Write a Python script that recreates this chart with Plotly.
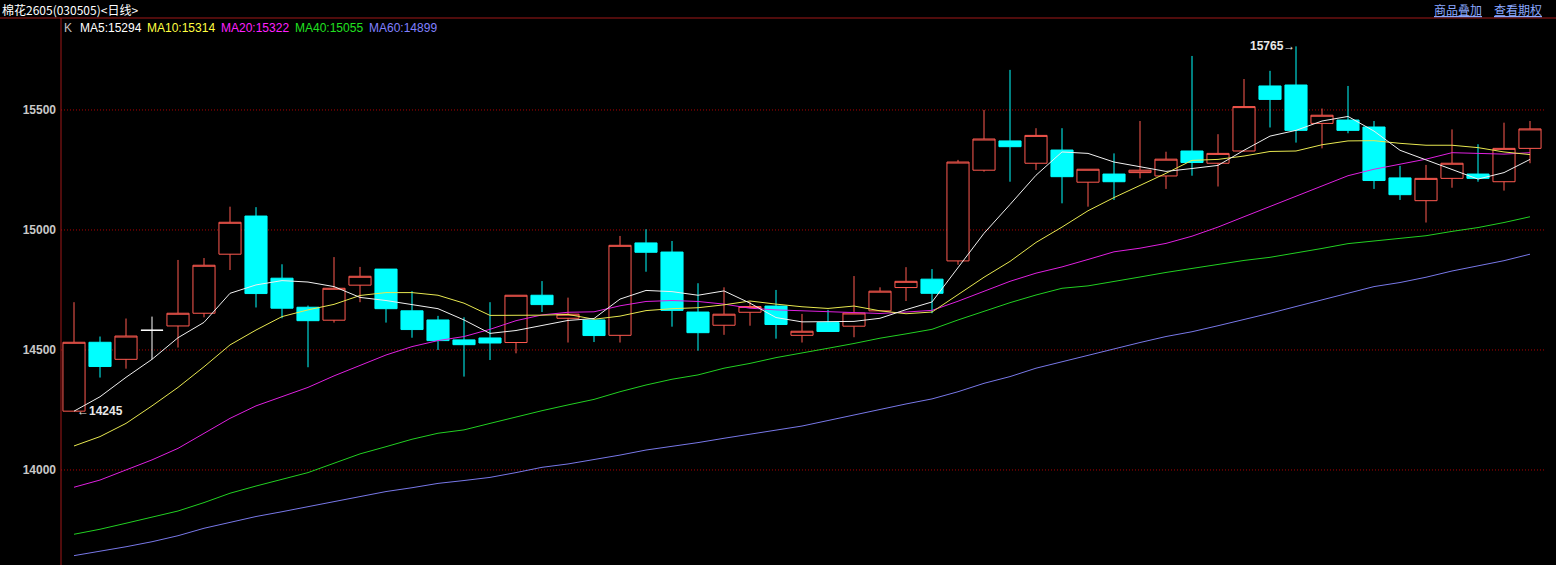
import plotly.graph_objects as go

# ---- data ----
opens = [14245, 14532, 14461, 14582, 14600, 14653, 14899, 15058, 14799, 14678,
         14624, 14770, 14837, 14663, 14625, 14542, 14550, 14531, 14728, 14632,
         14625, 14561, 14946, 14908, 14658, 14603, 14657, 14683, 14561, 14614,
         14599, 14663, 14760, 14795, 14871, 15249, 15371, 15278, 15333, 15199,
         15233, 15239, 15225, 15329, 15278, 15329, 15600, 15604, 15444, 15458,
         15429, 15217, 15122, 15215, 15233, 15201, 15340]
highs = [14699, 14556, 14631, 14639, 14875, 14883, 15097, 15095, 14857, 14685,
         14887, 14846, 14837, 14745, 14642, 14636, 14699, 14728, 14787, 14718,
         14625, 14975, 15003, 14954, 14778, 14761, 14701, 14750, 14650, 14667,
         14808, 14761, 14845, 14837, 15292, 15500, 15667, 15424, 15424, 15253,
         15319, 15454, 15326, 15725, 15399, 15629, 15663, 15765, 15506, 15600,
         15454, 15267, 15271, 15419, 15357, 15447, 15454]
lows = [14245, 14385, 14422, 14461, 14510, 14636, 14833, 14677, 14632, 14428,
        14614, 14699, 14614, 14551, 14500, 14389, 14458, 14486, 14658, 14531,
        14533, 14531, 14826, 14597, 14497, 14563, 14601, 14547, 14531, 14577,
        14553, 14663, 14704, 14653, 14855, 15243, 15201, 15250, 15111, 15097,
        15125, 15215, 15171, 15226, 15181, 15326, 15427, 15364, 15340, 15403,
        15171, 15125, 15031, 15176, 15201, 15164, 15278]
closes = [14532, 14431, 14558, 14582, 14653, 14853, 15032, 14735, 14674, 14622,
          14757, 14807, 14672, 14585, 14539, 14522, 14529, 14728, 14689, 14649,
          14560, 14936, 14907, 14665, 14572, 14649, 14681, 14606, 14578, 14577,
          14654, 14745, 14786, 14736, 15283, 15379, 15347, 15394, 15222, 15253,
          15201, 15249, 15295, 15281, 15319, 15514, 15544, 15415, 15478, 15415,
          15206, 15147, 15215, 15278, 15215, 15340, 15421]

ma5 = [14245, 14305, 14386, 14461, 14551, 14615, 14736, 14771, 14789, 14783,
       14764, 14719, 14706, 14689, 14672, 14625, 14569, 14581, 14601, 14623,
       14631, 14712, 14748, 14743, 14728, 14746, 14695, 14635, 14617, 14618,
       14619, 14632, 14668, 14700, 14841, 14986, 15106, 15228, 15325, 15319,
       15283, 15264, 15244, 15256, 15269, 15332, 15391, 15415, 15454, 15473,
       15412, 15332, 15292, 15252, 15212, 15239, 15294]
ma10 = [14100, 14139, 14194, 14267, 14344, 14430, 14521, 14583, 14639, 14667,
        14690, 14727, 14739, 14739, 14728, 14695, 14644, 14644, 14645, 14648,
        14628, 14641, 14664, 14672, 14676, 14688, 14704, 14691, 14680, 14673,
        14683, 14663, 14651, 14658, 14730, 14803, 14869, 14948, 15012, 15080,
        15135, 15185, 15236, 15290, 15294, 15308, 15327, 15329, 15355, 15371,
        15372, 15361, 15353, 15353, 15343, 15325, 15314]
ma20 = [13928, 13958, 14000, 14042, 14090, 14153, 14215, 14267, 14306, 14344,
        14392, 14437, 14479, 14514, 14539, 14556, 14586, 14622, 14646, 14657,
        14659, 14684, 14702, 14706, 14702, 14691, 14674, 14667, 14663, 14660,
        14655, 14652, 14658, 14665, 14703, 14745, 14786, 14820, 14846, 14877,
        14909, 14924, 14944, 14974, 15012, 15055, 15098, 15139, 15184, 15226,
        15253, 15273, 15295, 15322, 15318, 15316, 15322]
ma40 = [13732, 13753, 13778, 13803, 13829, 13864, 13903, 13933, 13961, 13989,
        14028, 14067, 14097, 14128, 14153, 14167, 14194, 14222, 14247, 14271,
        14294, 14326, 14354, 14378, 14396, 14424, 14444, 14468, 14486, 14507,
        14527, 14549, 14567, 14586, 14625, 14662, 14697, 14729, 14757, 14767,
        14784, 14804, 14823, 14840, 14857, 14873, 14886, 14903, 14923, 14943,
        14954, 14963, 14976, 14994, 15010, 15031, 15055]
ma60 = [13643, 13660, 13680, 13701, 13726, 13757, 13781, 13806, 13826, 13847,
        13871, 13889, 13910, 13926, 13944, 13956, 13969, 13989, 14011, 14025,
        14042, 14062, 14083, 14097, 14114, 14132, 14150, 14167, 14183, 14206,
        14230, 14253, 14275, 14296, 14326, 14361, 14389, 14424, 14451, 14479,
        14507, 14531, 14556, 14576, 14601, 14626, 14653, 14681, 14708, 14736,
        14764, 14781, 14803, 14829, 14850, 14872, 14899]

ytick_vals = [14000, 14500, 15000, 15500]
title_text = "棉花2605(030505)<日线>"
legend_items = [("K", "#c0c0c0"), ("MA5:15294", "#ffffff"), ("MA10:15314", "#ffff40"),
                ("MA20:15322", "#ff20ff"), ("MA40:15055", "#20e020"), ("MA60:14899", "#8080ff")]
links = ["商品叠加", "查看期权"]
low_mark = (0, 14245)
high_mark = (47, 15765)

# ---- styling ----
RED = "#ff5a50"
CYAN = "#00ffff"
AXIS_RED = "#a01818"
GRID_RED = "#b00000"
W, H = 1556, 565
ML, MT = 61, 19
PW, PH = W - ML, H - MT

n = len(closes)
idx = list(range(n))
main_i = [i for i in idx if opens[i] != closes[i]]
doji_i = [i for i in idx if opens[i] == closes[i]]

fig = go.Figure()
fig.add_trace(go.Candlestick(
    x=main_i,
    open=[opens[i] for i in main_i], high=[highs[i] for i in main_i],
    low=[lows[i] for i in main_i], close=[closes[i] for i in main_i],
    increasing=dict(line=dict(color=RED, width=1), fillcolor="#000000"),
    decreasing=dict(line=dict(color=CYAN, width=1), fillcolor=CYAN),
    whiskerwidth=0, hoverinfo="skip"))
fig.add_trace(go.Candlestick(
    x=doji_i,
    open=[opens[i] for i in doji_i], high=[highs[i] for i in doji_i],
    low=[lows[i] for i in doji_i], close=[closes[i] for i in doji_i],
    increasing=dict(line=dict(color="#ffffff", width=1), fillcolor="#ffffff"),
    decreasing=dict(line=dict(color="#ffffff", width=1), fillcolor="#ffffff"),
    whiskerwidth=0, hoverinfo="skip"))

ma_styles = [(ma60, "#7878e8"), (ma40, "#22d022"), (ma20, "#e020e0"),
             (ma10, "#e8e850"), (ma5, "#f0f0f0")]
for vals, col in ma_styles:
    fig.add_trace(go.Scatter(x=idx, y=vals, mode="lines",
                             line=dict(color=col, width=1), hoverinfo="skip"))

def py(Y):
    return (H - Y) / PH

def px(X):
    return (X - ML) / PW

annotations = []
annotations.append(dict(text=title_text, xref="paper", yref="paper", x=px(0), y=py(9),
                        xanchor="left", yanchor="middle", showarrow=False,
                        font=dict(family="Noto Sans CJK SC", size=12, color="#ffffff")))
link_x = [1432, 1492]
for t, lx in zip(links, link_x):
    annotations.append(dict(text="<u>" + t + "</u>", xref="paper", yref="paper", x=px(lx), y=py(9),
                            xanchor="left", yanchor="middle", showarrow=False,
                            font=dict(family="Noto Sans CJK SC", size=12, color="#8aa8ff")))
leg_x = [62, 78, 145, 219, 293, 367]
for (t, c), lx in zip(legend_items, leg_x):
    annotations.append(dict(text=t, xref="paper", yref="paper", x=px(lx), y=py(28),
                            xanchor="left", yanchor="middle", showarrow=False,
                            font=dict(family="Liberation Sans", size=12, color=c)))
annotations.append(dict(text="←" + str(low_mark[1]), x=low_mark[0], y=low_mark[1],
                        xref="x", yref="y", xanchor="left", yanchor="middle", xshift=1,
                        showarrow=False,
                        font=dict(family="Liberation Sans", size=12, color="#e8e8e8", weight="bold")))
annotations.append(dict(text=str(high_mark[1]) + "→", x=high_mark[0], y=high_mark[1],
                        xref="x", yref="y", xanchor="right", yanchor="middle", xshift=1,
                        showarrow=False,
                        font=dict(family="Liberation Sans", size=12, color="#e8e8e8", weight="bold")))

shapes = [
    dict(type="line", xref="paper", yref="paper", x0=px(0), x1=1, y0=py(18), y1=py(18),
         line=dict(color=AXIS_RED, width=1)),
    dict(type="line", xref="paper", yref="paper", x0=0, x1=0, y0=0, y1=py(18),
         line=dict(color=AXIS_RED, width=1)),
]
for v in ytick_vals:
    shapes.append(dict(type="line", xref="paper", yref="y", x0=0, x1=0.993, y0=v, y1=v,
                       layer="below", line=dict(color=GRID_RED, width=1, dash="1px,2px")))

fig.update_layout(
    width=W, height=H,
    margin=dict(l=ML, r=0, t=MT, b=0, pad=0),
    paper_bgcolor="#000000", plot_bgcolor="#000000",
    showlegend=False, hovermode=False,
    boxgap=0.15, boxgroupgap=0,
    annotations=annotations, shapes=shapes,
    xaxis=dict(range=[-0.5, 57.0], showgrid=False, zeroline=False, showticklabels=False,
               showline=False, ticks="", rangeslider=dict(visible=False), fixedrange=True),
    yaxis=dict(range=[13604, 15879], tickvals=ytick_vals, ticktext=[str(v) for v in ytick_vals],
               showgrid=False, zeroline=False, showline=False, ticks="", ticklabelstandoff=4,
               tickfont=dict(family="Liberation Sans", size=12, color="#c8c8c8", weight="bold"),
               fixedrange=True),
)

fig.write_html("out.html", config={"displayModeBar": False},
               post_script="document.body.style.margin='0px';document.body.style.background='#000';")
